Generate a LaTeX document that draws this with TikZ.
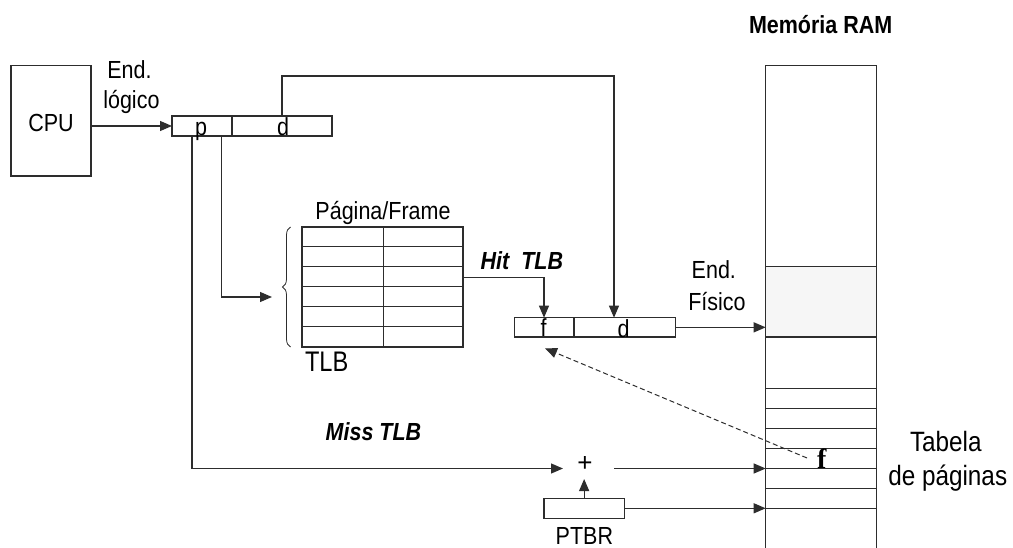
\documentclass[tikz,border=0pt]{standalone}
\usepackage{fontspec}
\setmainfont{Liberation Sans}
\newfontfamily\serifbold{Liberation Serif}
\usetikzlibrary{arrows.meta,decorations.pathreplacing}
\newcommand{\stx}[2][1.15]{\scalebox{1}[#1]{#2}}
\definecolor{ln}{RGB}{45,45,45}
\definecolor{ramgray}{RGB}{246,246,246}
\tikzset{
  box/.style={draw=ln, rectangle, inner sep=0pt, outer sep=0pt, line width=1.2pt},
  arr/.style={draw=ln, line width=1.2pt, -{Triangle[length=12pt,width=10pt]}},
  plain/.style={draw=ln, line width=1.2pt},
  thin/.style={draw=ln, line width=1pt},
  lbl/.style={inner sep=0pt, outer sep=0pt, font=\fontsize{21.5}{26}\selectfont},
  lblbi/.style={lbl, font=\fontsize{21.5}{26}\selectfont\bfseries\itshape},
  lblb/.style={lbl, font=\fontsize{21.5}{26}\selectfont\bfseries},
  dsh/.style={draw=ln, line width=1pt, dash pattern=on 5pt off 3pt, -{Triangle[length=12pt,width=10pt]}}
}
\begin{document}
\begin{tikzpicture}[x=1pt,y=-1pt]
\useasboundingbox (0,0) rectangle (1013,548);

% CPU
\node[box, minimum width=80pt, minimum height=110.5pt] (cpu) at (51,120.75) {};
\node[lbl] (cputxt) at (51,123) {\stx{CPU}};
\node[lbl, anchor=base west] (endl1) at (107.3,78.3) {\stx{End.}};
\node[lbl, anchor=base west] (endl2) at (103.3,108.3) {\stx{lógico}};

% logical address
\node[box, minimum width=160pt, minimum height=20pt] (addr) at (252,126) {};
\draw[plain] (232,116) -- (232,136);
\node[lbl, anchor=base] (ap) at (201,136) {\stx{p}};
\node[lbl, anchor=base] (ad) at (283,136) {\stx{d}};

% TLB
\node[box, minimum width=161pt, minimum height=120pt] (tlb) at (382.5,287) {};
\draw[thin] (383,227) -- (383,347);
\foreach \yy in {247,267,287,307,327} \draw[thin] (302,\yy) -- (463,\yy);
\draw[draw=ln, line width=0.8pt, decorate, decoration={brace, amplitude=8pt}] (290.5,347) -- (290.5,227);
\node[lbl, anchor=base] (pgfr) at (383,219.3) {\stx{Página/Frame}};
\node[lbl, anchor=base west, font=\fontsize{23.6}{28}\selectfont] (tlbtxt) at (305,371.7) {\stx[1.2]{TLB}};
\node[lblbi, anchor=base west] (hit) at (480.7,270) {\stx{Hit~~TLB}};
\node[lblbi, anchor=base west] (miss) at (325.7,440) {\stx{Miss TLB}};

% physical address
\node[box, minimum width=161.4pt, minimum height=19.3pt] (phys) at (595,327.35) {};
\draw[plain] (574,317.7) -- (574,337);
\node[lbl, anchor=base] (pf) at (543.5,337) {\stx{f}};
\node[lbl, anchor=base] (pd) at (623.5,337.5) {\stx{d}};
\node[lbl, anchor=base west] (endf1) at (691.7,278.3) {\stx{End.}};
\node[lbl, anchor=base west] (endf2) at (688.3,311) {\stx{Físico}};

% RAM
\node[lblb, anchor=base west] (ramtitle) at (749,33.3) {\stx{Memória RAM}};
\node[draw=none, rectangle, inner sep=0pt, outer sep=0pt, minimum width=110.6pt, minimum height=482.3pt] (ram) at (821,306.85) {};
\fill[ramgray] (765.7,266.7) rectangle (876.3,337);
\draw[plain] (765.7,548.5) -- (765.7,65.7) -- (876.3,65.7) -- (876.3,548.5);
\foreach \yy in {266.7,337} \draw[plain] (765.7,\yy) -- (876.3,\yy);
\foreach \yy in {388.3,408,428,448.7,468.7,488,508.7} \draw[thin] (765.7,\yy) -- (876.3,\yy);
\node[inner sep=0pt, anchor=base, font=\fontsize{28}{30}\selectfont\serifbold\bfseries] (ramf) at (821.7,468.3) {f};
\node[lbl, anchor=base west, font=\fontsize{24.3}{28}\selectfont] (tab1) at (910,451.7) {\stx{Tabela}};
\node[lbl, anchor=base west, font=\fontsize{24.3}{28}\selectfont] (tab2) at (888.3,485) {\stx{de páginas}};

% PTBR and adder
\node[box, minimum width=80.3pt, minimum height=20pt] (ptbr) at (584.15,508.3) {};
\node[lbl, anchor=base west] (ptbrtxt) at (555.7,544.5) {\stx{PTBR}};
\node[inner sep=0pt, font=\fontsize{26}{28}\selectfont] (plus) at (585,463.5) {+};

% coordinates for connector ends
\coordinate (adtop) at (282,116);
\coordinate (pdtop) at (614,317.7);
\coordinate (ap2) at (221.7,136);
\coordinate (tlbin) at (272,297);
\coordinate (ap1) at (192,136);
\coordinate (plusin) at (563,468.5);
\coordinate (plusout) at (614,468.5);
\coordinate (plusbot) at (584.15,479);
\coordinate (tlbout) at (463,277.3);
\coordinate (pftop) at (544,317.7);
\coordinate (ramfs) at (807,458);
\coordinate (pfbot) at (545,348.3);

% connectors
\draw[arr] (cpu.east |- addr.west) -- (addr.west);
\draw[arr] (adtop) -- (282,76) -| (pdtop);
\draw[arr] (ap2) |- (tlbin);
\draw[arr] (ap1) |- (plusin);
\draw[arr] (plusout) -- (plusout -| ram.west);
\draw[arr] (ptbr.north) -- (plusbot);
\draw[arr] (ptbr.east) -- (ptbr.east -| ram.west);
\draw[arr] (tlbout) -| (pftop);
\draw[arr] (phys.east) -- (phys.east -| ram.west);
\draw[dsh] (ramfs) -- (pfbot);
\end{tikzpicture}
\end{document}
